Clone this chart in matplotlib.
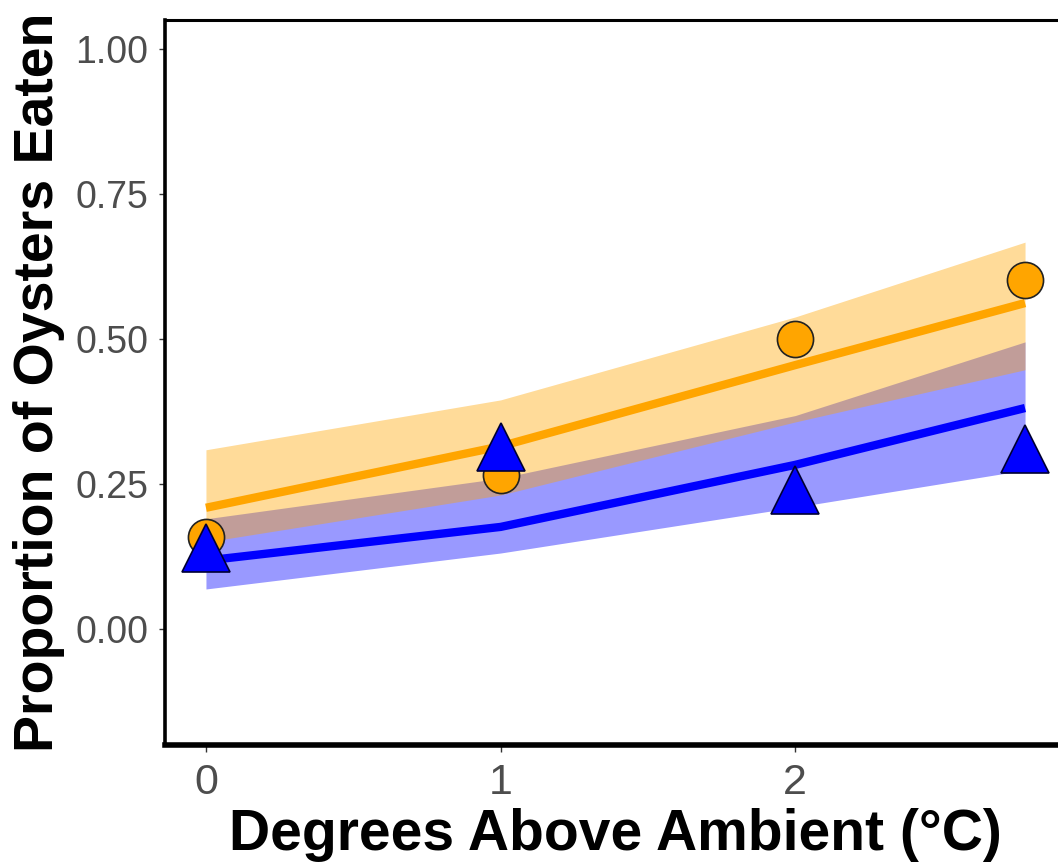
import numpy as np
import matplotlib.pyplot as plt

plt.rcParams['font.family'] = ['Liberation Sans', 'DejaVu Sans']

# warming treatment (degrees above ambient)
temps = [0, 1, 2, 2.78]

# observed proportion eaten
obs_orange = [0.159, 0.266, 0.500, 0.602]
obs_blue = [0.139, 0.313, 0.239, 0.311]

# model fit and confidence band
fit_orange = [0.209, 0.315, 0.455, 0.562]
lo_orange = [0.150, 0.231, 0.357, 0.447]
hi_orange = [0.309, 0.395, 0.538, 0.667]

fit_blue = [0.118, 0.176, 0.283, 0.381]
lo_blue = [0.069, 0.131, 0.210, 0.274]
hi_blue = [0.190, 0.260, 0.368, 0.495]

y_ticks = [0.00, 0.25, 0.50, 0.75, 1.00]
x_ticks = [0, 1, 2]

W, H = 1058, 864
fig = plt.figure(figsize=(W / 100, H / 100), dpi=100)
ax = fig.add_axes([165 / W, 119 / H, (1066 - 165) / W, (745 - 20) / H])

ax.fill_between(temps, lo_blue, hi_blue, color='#0000FF', alpha=0.4, linewidth=0)
ax.fill_between(temps, lo_orange, hi_orange, color='#FFA500', alpha=0.4, linewidth=0)
ax.plot(temps, fit_orange, color='#FFA500', lw=6, solid_capstyle='butt')
ax.plot(temps, fit_blue, color='#0000FF', lw=6, solid_capstyle='butt')

ax.plot(temps, obs_orange, 'o', ms=26, mfc='#FFA500', mec='#222222', mew=1.2, ls='none')
ax.plot(temps, obs_blue, '^', ms=34, mfc='#0000FF', mec='#000033', mew=1.2, ls='none')

ax.set_xlim(-0.139, 2.919)
ax.set_ylim(-0.2, 1.05)
ax.set_xticks(x_ticks)
ax.set_xticklabels([str(t) for t in x_ticks])
ax.set_yticks(y_ticks)
ax.set_yticklabels([f'{v:.2f}' for v in y_ticks])

ax.spines['right'].set_visible(False)
ax.spines['left'].set_linewidth(2.6)
ax.spines['top'].set_linewidth(2.2)
ax.spines['bottom'].set_linewidth(4)

ax.tick_params(axis='y', length=4, width=1, color='#333333', pad=8,
               labelsize=27, labelcolor='#4D4D4D')
ax.tick_params(axis='x', length=5, width=1, color='#333333', pad=8,
               labelsize=31, labelcolor='#4D4D4D')

ax.set_xlabel('Degrees Above Ambient (°C)', fontsize=41, fontweight='bold',
              va='baseline')
ax.set_ylabel('Proportion of Oysters Eaten', fontsize=40, fontweight='bold',
              va='baseline')
ax.xaxis.set_label_coords(0.5, -(850 - 745) / 725)
ax.yaxis.set_label_coords((53 - 165) / 901, 0.5)

fig.savefig('out.png', dpi=100)
